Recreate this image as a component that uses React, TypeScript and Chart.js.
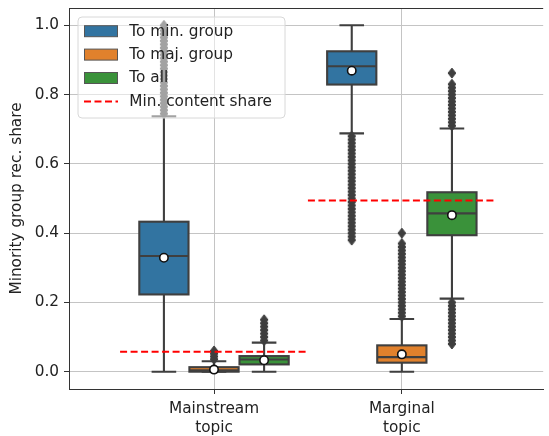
import React, { useEffect, useRef } from 'react';
import { Chart, registerables } from 'chart.js';

Chart.register(...registerables);

// ---------- data ----------
const categories: string[][] = [['Mainstream', 'topic'], ['Marginal', 'topic']];
const seriesLabels = ['To min. group', 'To maj. group', 'To all'];
const lineLabel = 'Min. content share';
const seriesColors = ['#3274a1', '#e1812c', '#3a923a'];
const yTicks = [0, 0.2, 0.4, 0.6, 0.8, 1.0];
const yLabel = 'Minority group rec. share';

// [lower whisker, Q1, median, Q3, upper whisker] for [Mainstream, Marginal]
const minGroupBoxes = [
  [0.0, 0.223, 0.334, 0.433, 0.737],
  [0.688, 0.829, 0.882, 0.925, 1.0],
];
const majGroupBoxes = [
  [0.0, 0.0, 0.004, 0.013, 0.03],
  [0.0, 0.026, 0.042, 0.076, 0.152],
];
const allBoxes = [
  [0.0, 0.021, 0.035, 0.045, 0.084],
  [0.211, 0.394, 0.457, 0.518, 0.702],
];

const minGroupMeans = [0.329, 0.869];
const majGroupMeans = [0.006, 0.05];
const allMeans = [0.033, 0.452];

const minGroupOutliers = [
  [0.745, 0.755, 0.765, 0.775, 0.785, 0.795, 0.805, 0.815, 0.825, 0.835, 0.845, 0.855, 0.865,
    0.875, 0.885, 0.895, 0.905, 0.915, 0.925, 0.935, 0.945, 0.955, 0.965, 0.975, 0.985, 1.0],
  [0.68, 0.67, 0.66, 0.65, 0.64, 0.63, 0.62, 0.61, 0.6, 0.59, 0.58, 0.57, 0.56, 0.55, 0.54, 0.53,
    0.52, 0.51, 0.5, 0.49, 0.48, 0.47, 0.46, 0.45, 0.44, 0.43, 0.42, 0.41, 0.4, 0.39, 0.38],
];
const majGroupOutliers = [
  [0.036, 0.044, 0.052, 0.06],
  [0.16, 0.17, 0.18, 0.19, 0.2, 0.21, 0.22, 0.23, 0.24, 0.25, 0.26, 0.27, 0.28, 0.29, 0.3, 0.31,
    0.32, 0.33, 0.34, 0.35, 0.36, 0.37, 0.4],
];
const allOutliers = [
  [0.09, 0.1, 0.11, 0.12, 0.13, 0.14, 0.15],
  [0.08, 0.09, 0.1, 0.11, 0.12, 0.13, 0.14, 0.15, 0.16, 0.17, 0.18, 0.19, 0.2,
    0.71, 0.72, 0.73, 0.74, 0.75, 0.76, 0.77, 0.78, 0.79, 0.8, 0.81, 0.82, 0.83, 0.862],
];

const minContentShare = [0.0577, 0.494];

// ---------- layout constants ----------
const FONT = 'DejaVu Sans';
const FONT_SIZE = 15.3;
const LINE_GREY = '#3f3f3f';
const hueOffsets = [-0.2667, 0, 0.2667];
const boxWidth = 0.262;

const seriesBoxes = [minGroupBoxes, majGroupBoxes, allBoxes];
const seriesMeans = [minGroupMeans, majGroupMeans, allMeans];
const seriesOutliers = [minGroupOutliers, majGroupOutliers, allOutliers];

const boxPlugin = {
  id: 'boxDraw',
  beforeDatasetsDraw(chart: any) {
    const { ctx, chartArea } = chart;
    const x = chart.scales.x;
    const y = chart.scales.y;
    ctx.save();
    ctx.beginPath();
    ctx.rect(chartArea.left, chartArea.top, chartArea.right - chartArea.left, chartArea.bottom - chartArea.top);
    ctx.clip();
    ctx.lineWidth = 2.1;
    ctx.strokeStyle = LINE_GREY;
    ctx.lineCap = 'butt';
    seriesBoxes.forEach((boxes, h) => {
      boxes.forEach((st, c) => {
        const [lo, q1, med, q3, hi] = st;
        const center = c + hueOffsets[h];
        const cx = x.getPixelForValue(center);
        const xl = x.getPixelForValue(center - boxWidth / 2);
        const xr = x.getPixelForValue(center + boxWidth / 2);
        const capHalf = (xr - xl) / 4;
        const yLo = y.getPixelForValue(lo);
        const yQ1 = y.getPixelForValue(q1);
        const yMed = y.getPixelForValue(med);
        const yQ3 = y.getPixelForValue(q3);
        const yHi = y.getPixelForValue(hi);
        // whiskers
        ctx.beginPath();
        ctx.moveTo(cx, yQ3);
        ctx.lineTo(cx, yHi);
        ctx.moveTo(cx, yQ1);
        ctx.lineTo(cx, yLo);
        ctx.moveTo(cx - capHalf, yHi);
        ctx.lineTo(cx + capHalf, yHi);
        ctx.moveTo(cx - capHalf, yLo);
        ctx.lineTo(cx + capHalf, yLo);
        ctx.stroke();
        // box
        ctx.fillStyle = seriesColors[h];
        ctx.fillRect(xl, yQ3, xr - xl, yQ1 - yQ3);
        ctx.strokeRect(xl, yQ3, xr - xl, yQ1 - yQ3);
        // median
        ctx.beginPath();
        ctx.moveTo(xl, yMed);
        ctx.lineTo(xr, yMed);
        ctx.stroke();
      });
    });
    ctx.restore();
  },
  afterDatasetsDraw(chart: any) {
    const { ctx, chartArea } = chart;
    // top spine
    ctx.save();
    ctx.strokeStyle = '#333333';
    ctx.lineWidth = 1;
    ctx.beginPath();
    ctx.moveTo(chartArea.left, Math.round(chartArea.top) + 0.5);
    ctx.lineTo(chartArea.right, Math.round(chartArea.top) + 0.5);
    ctx.stroke();
    ctx.restore();
  },
  afterDraw(chart: any) {
    const { ctx, chartArea } = chart;
    const left = chartArea.left + 9;
    const top = chartArea.top + 9;
    const w = 207;
    const h = 101;
    const r = 4;
    ctx.save();
    ctx.beginPath();
    ctx.moveTo(left + r, top);
    ctx.lineTo(left + w - r, top);
    ctx.arcTo(left + w, top, left + w, top + r, r);
    ctx.lineTo(left + w, top + h - r);
    ctx.arcTo(left + w, top + h, left + w - r, top + h, r);
    ctx.lineTo(left + r, top + h);
    ctx.arcTo(left, top + h, left, top + h - r, r);
    ctx.lineTo(left, top + r);
    ctx.arcTo(left, top, left + r, top, r);
    ctx.closePath();
    ctx.fillStyle = 'rgba(255,255,255,0.52)';
    ctx.fill();
    ctx.strokeStyle = '#d8d8d8';
    ctx.lineWidth = 1;
    ctx.stroke();

    const labels = [...seriesLabels, lineLabel];
    ctx.font = `${FONT_SIZE}px "${FONT}"`;
    ctx.textBaseline = 'middle';
    ctx.textAlign = 'left';
    labels.forEach((lab, i) => {
      const cy = top + 14.2 + i * 23.4;
      if (i < seriesLabels.length) {
        ctx.fillStyle = seriesColors[i];
        ctx.fillRect(left + 6.5, cy - 5.5, 33, 11);
        ctx.strokeStyle = '#555555';
        ctx.lineWidth = 1;
        ctx.strokeRect(left + 6.5, cy - 5.5, 33, 11);
      } else {
        ctx.strokeStyle = '#ff0000';
        ctx.lineWidth = 2;
        ctx.setLineDash([7, 3.5]);
        ctx.beginPath();
        ctx.moveTo(left + 6, cy);
        ctx.lineTo(left + 40, cy);
        ctx.stroke();
        ctx.setLineDash([]);
      }
      ctx.fillStyle = '#222222';
      ctx.fillText(lab, left + 51.3, cy + 0.5);
    });
    ctx.restore();
  },
};

function makeDiamond(): HTMLCanvasElement {
  const c = document.createElement('canvas');
  c.width = 10;
  c.height = 12;
  const g = c.getContext('2d')!;
  g.fillStyle = LINE_GREY;
  g.strokeStyle = LINE_GREY;
  g.lineWidth = 1;
  g.beginPath();
  g.moveTo(5, 1.0);
  g.lineTo(8.9, 6);
  g.lineTo(5, 11.0);
  g.lineTo(1.1, 6);
  g.closePath();
  g.fill();
  g.stroke();
  return c;
}

export default function App() {
  const canvasRef = useRef<HTMLCanvasElement | null>(null);

  useEffect(() => {
    if (!canvasRef.current) return;
    const diamond = makeDiamond();

    const outlierPoints: { x: number; y: number }[] = [];
    seriesOutliers.forEach((perCat, h) =>
      perCat.forEach((vals, c) => vals.forEach((v) => outlierPoints.push({ x: c + hueOffsets[h], y: v })))
    );
    const meanPoints: { x: number; y: number }[] = [];
    seriesMeans.forEach((perCat, h) => perCat.forEach((v, c) => meanPoints.push({ x: c + hueOffsets[h], y: v })));

    const lineDatasets = minContentShare.map((v, c) => ({
      type: 'line' as const,
      label: lineLabel,
      data: [
        { x: c - 0.5, y: v },
        { x: c + 0.5, y: v },
      ],
      borderColor: '#ff0000',
      borderWidth: 2,
      borderDash: [7, 3.5],
      pointRadius: 0,
      fill: false,
      order: 0,
    }));

    const chart = new Chart(canvasRef.current, {
      type: 'scatter',
      data: {
        datasets: [
          ...lineDatasets,
          {
            type: 'scatter',
            label: 'means',
            data: meanPoints,
            pointStyle: 'circle',
            pointRadius: 4.2,
            backgroundColor: '#ffffff',
            borderColor: '#111111',
            borderWidth: 1.6,
            order: 1,
          },
          {
            type: 'scatter',
            label: 'outliers',
            data: outlierPoints,
            pointStyle: diamond,
            pointRadius: 4,
            order: 2,
          },
        ] as any,
      },
      options: {
        animation: false,
        responsive: false,
        devicePixelRatio: 1,
        events: [],
        layout: { padding: { top: 8, left: 0, right: 0, bottom: 0 } },
        plugins: { legend: { display: false }, tooltip: { enabled: false } },
        scales: {
          x: {
            type: 'linear',
            min: -0.772,
            max: 1.7526,
            afterBuildTicks: (scale: any) => {
              scale.ticks = categories.map((_, i) => ({ value: i }));
            },
            afterFit: (scale: any) => {
              scale.height = 47;
              scale.paddingLeft = 0;
              scale.paddingRight = 0;
            },
            ticks: {
              autoSkip: false,
              maxRotation: 0,
              padding: 6,
              color: '#222222',
              font: { family: FONT, size: FONT_SIZE, lineHeight: 1.22 },
              callback: (_v: any, i: number) => categories[i],
            },
            grid: { color: '#c4c4c4', lineWidth: 1, tickColor: '#333333', tickLength: 5 },
            border: { display: true, color: '#333333', width: 1 },
          },
          y: {
            type: 'linear',
            min: -0.05,
            max: 1.05,
            afterBuildTicks: (scale: any) => {
              scale.ticks = yTicks.map((v) => ({ value: v }));
            },
            afterFit: (scale: any) => {
              scale.width = 69;
              scale.paddingTop = 0;
              scale.paddingBottom = 0;
            },
            ticks: {
              padding: 5,
              color: '#222222',
              font: { family: FONT, size: FONT_SIZE },
              callback: (v: any) => Number(v).toFixed(1),
            },
            grid: { color: '#c4c4c4', lineWidth: 1, tickColor: '#333333', tickLength: 5 },
            border: { display: true, color: '#333333', width: 1 },
            title: {
              display: true,
              text: yLabel,
              color: '#222222',
              font: { family: FONT, size: FONT_SIZE },
              padding: { top: 8, bottom: 0 },
            },
          },
        },
      },
      plugins: [boxPlugin],
    } as any);

    return () => chart.destroy();
  }, []);

  return (
    <div style={{ position: 'absolute', left: 0, top: 0, width: 549, height: 436, background: '#ffffff' }}>
      <canvas ref={canvasRef} width={549} height={436} style={{ display: 'block' }} />
    </div>
  );
}
